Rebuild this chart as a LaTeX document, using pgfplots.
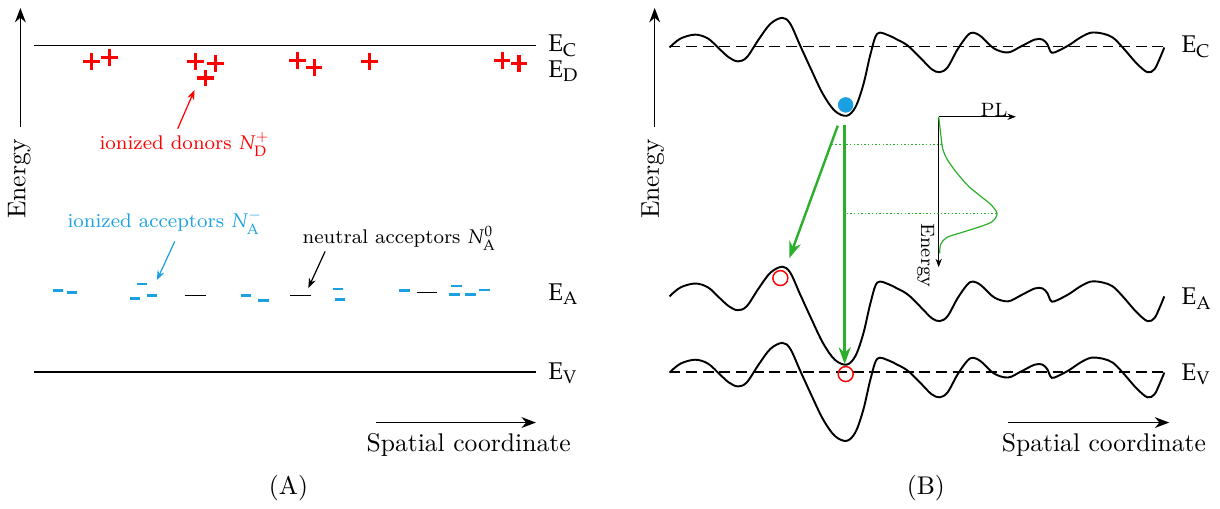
\documentclass[border=0pt]{standalone}
\usepackage{mathpazo}
\usepackage{pgfplots}
\pgfplotsset{compat=1.18}
\usepackage{pgfplotstable}
\usetikzlibrary{arrows.meta}
\definecolor{accblue}{RGB}{27,161,226}
\definecolor{pgreen}{RGB}{44,176,44}
\definecolor{dred}{RGB}{255,0,0}

% conduction band edge profile (pixel units, y downwards)
\pgfplotstableread{
x y
675 48
686 39
701 35
714 39
726 50
735 58
744 62
753 58
765 40
777 24
789 18
797 24
807 46
818 70
830 95
842 112
854 117
863 108
871 85
878 55
885 34
897 36
905 40
911 43
918 48
930 60
940 70
948 73
956 68
966 50
976 36
982 33
990 37
1003 49
1017 53
1030 47
1044 40
1052 40
1057 45
1060 52
1064 53
1078 46
1090 38
1101 33
1113 34
1123 38
1133 48
1147 64
1158 73
1165 70
1170 60
1175 48
}\cbtable

\pgfplotstableread{
x y
947 118
949 135
951 150
955 160
961 169
968 178
978 189
989 198
1000 207
1006 216
1001 224
989 229
970 235
955 240
949 247
948 256
}\pltable

\pgfplotstableread{
x y
91 62
109 58
196 62
216 64
206 79
299 61
316 68
372 62
506 61
523 64
}\donors

\pgfplotstableread{
x y
57 294
71 296
142 287
135 302
152 299
247 299
265 304
340 292
342 303
407 294
460 289
458 298
474 298
488 293
}\ionacc

\pgfplotstableread{
x y
196 299
302 299
430 296
}\neutacc

\newcommand{\lblfont}{\fontsize{8.2}{10}\selectfont}
\newcommand{\bigfont}{\fontsize{10.6}{12.5}\selectfont}

\begin{document}
\begin{tikzpicture}
\begin{axis}[x=0.41pt,y=0.41pt,xmin=0,xmax=1220,ymin=0,ymax=513,
  y dir=reverse,clip=false,scale only axis,
  axis line style={draw=none},xtick=\empty,ytick=\empty]

%%%%%%%%%%%%%%%% Panel A
\addplot[black,line width=0.6pt,-{Stealth[length=6pt,width=4.5pt]}] coordinates {(19,128) (19,8)};
\node[rotate=90,font=\bigfont] at (axis cs:18,181) {Energy};
\addplot[black,line width=0.8pt] coordinates {(33,46) (540,46)};
\addplot[black,line width=0.8pt] coordinates {(33,376) (540,376)};
\node[anchor=west] at (axis cs:544,46) {$\mathrm{E}_{\mathrm{C}}$};
\node[anchor=west] at (axis cs:544,72) {$\mathrm{E}_{\mathrm{D}}$};
\node[anchor=west] at (axis cs:544,297) {$\mathrm{E}_{\mathrm{A}}$};
\node[anchor=west] at (axis cs:544,377) {$\mathrm{E}_{\mathrm{V}}$};

\addplot[only marks,mark=+,mark size=3.4pt,dred,mark options={line width=1.4pt}] table[x=x,y=y] {\donors};
\addplot[only marks,mark=-,mark size=2.2pt,accblue,mark options={line width=1.2pt}] table[x=x,y=y] {\ionacc};
\addplot[only marks,mark=-,mark size=4.3pt,black,mark options={line width=0.45pt}] table[x=x,y=y] {\neutacc};

\addplot[dred,line width=0.5pt,-{Stealth[length=4pt,width=3pt]}] coordinates {(178,130) (195,91)};
\node[dred,font=\lblfont] at (axis cs:185,146) {ionized donors $N_{\mathrm{D}}^{+}$};
\addplot[accblue,line width=0.5pt,-{Stealth[length=4pt,width=3pt]}] coordinates {(175,244) (157,283)};
\node[accblue,font=\lblfont] at (axis cs:165,225) {ionized acceptors $N_{\mathrm{A}}^{-}$};
\addplot[black,line width=0.5pt,-{Stealth[length=4pt,width=3pt]}] coordinates {(327,254) (310,291)};
\node[black,font=\lblfont] at (axis cs:402,241) {neutral acceptors $N_{\mathrm{A}}^{0}$};

\addplot[black,line width=0.6pt,-{Stealth[length=6pt,width=4.5pt]}] coordinates {(378,427) (540,427)};
\node[font=\bigfont] at (axis cs:472,450) {Spatial coordinate};
\node[font=\bigfont] at (axis cs:290,493) {(A)};

%%%%%%%%%%%%%%%% Panel B
\addplot[black,line width=0.6pt,-{Stealth[length=6pt,width=4.5pt]}] coordinates {(660,128) (660,8)};
\node[rotate=90,font=\bigfont] at (axis cs:658,181) {Energy};

\addplot[black,line width=0.8pt,dash pattern=on 4.5pt off 2.4pt] coordinates {(675,47) (1177,47)};
\addplot[black,line width=0.8pt,dash pattern=on 4.5pt off 2.4pt] coordinates {(675,376) (1177,376)};
\addplot[black,line width=0.8pt,smooth,tension=0.55] table[x=x,y=y] {\cbtable};
\addplot[black,line width=0.8pt,smooth,tension=0.55] table[x=x,y expr=\thisrow{y}+251.5] {\cbtable};
\addplot[black,line width=0.8pt,smooth,tension=0.55] table[x=x,y expr=\thisrow{y}+328.5] {\cbtable};
\node[anchor=west] at (axis cs:1184,47) {$\mathrm{E}_{\mathrm{C}}$};
\node[anchor=west] at (axis cs:1184,302) {$\mathrm{E}_{\mathrm{A}}$};
\node[anchor=west] at (axis cs:1184,378) {$\mathrm{E}_{\mathrm{V}}$};

% PL inset
\addplot[black,line width=0.4pt,-{Stealth[length=3.5pt,width=2.6pt]}] coordinates {(947,118) (947,270)};
\addplot[black,line width=0.4pt,-{Stealth[length=3.5pt,width=2.6pt]}] coordinates {(947,118) (1025,118)};
\node[font=\footnotesize] at (axis cs:1003,111) {PL};
\node[font=\footnotesize,rotate=-90] at (axis cs:934,258) {Energy};
\addplot[pgreen,line width=0.5pt,smooth,tension=0.5] table[x=x,y=y] {\pltable};
\addplot[pgreen,line width=0.6pt,dash pattern=on 0.6pt off 0.9pt] coordinates {(839,146) (950,146)};
\addplot[pgreen,line width=0.6pt,dash pattern=on 0.6pt off 0.9pt] coordinates {(854,216) (1006,216)};

% transitions
\addplot[pgreen,line width=1pt,-{Stealth[length=7pt,width=5pt]}] coordinates {(845,127) (796,261)};
\addplot[pgreen,line width=1pt,-{Stealth[length=7pt,width=5pt]}] coordinates {(852,126) (852,368)};

% carriers
\addplot[only marks,mark=*,mark size=3pt,accblue,mark options={draw=accblue,fill=accblue}] coordinates {(853,106)};
\addplot[only marks,mark=o,mark size=3.1pt,dred,mark options={line width=0.6pt}] coordinates {(787,281) (853,378)};

\addplot[black,line width=0.6pt,-{Stealth[length=6pt,width=4.5pt]}] coordinates {(1017,427) (1180,427)};
\node[font=\bigfont] at (axis cs:1114,450) {Spatial coordinate};
\node[font=\bigfont] at (axis cs:934,493) {(B)};
\end{axis}
\end{tikzpicture}
\end{document}
